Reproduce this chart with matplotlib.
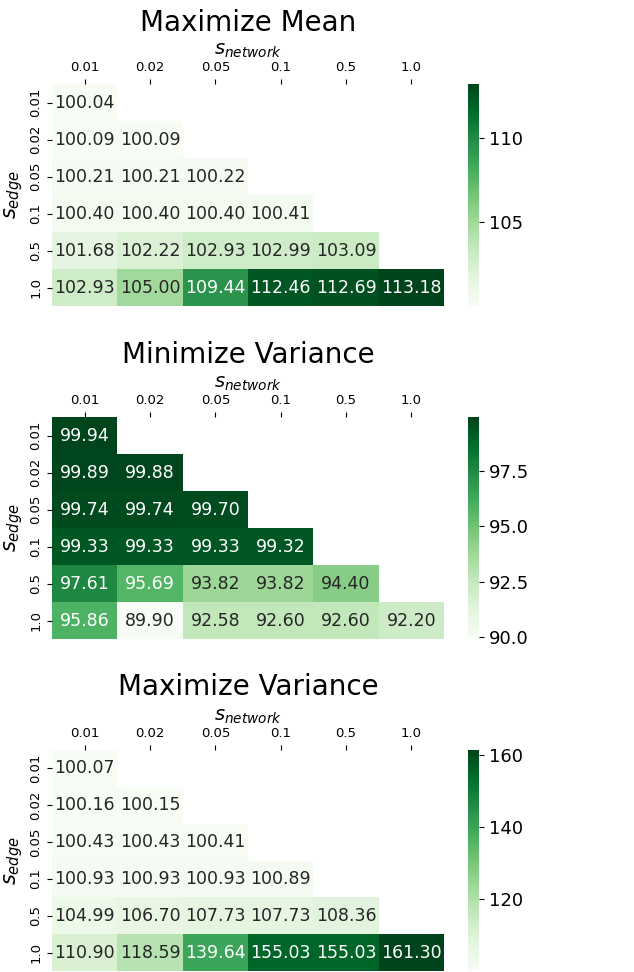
import matplotlib
matplotlib.use("Agg")
import matplotlib.pyplot as plt
import numpy as np
import seaborn as sns

# sparsity levels
s_network = ["0.01", "0.02", "0.05", "0.1", "0.5", "1.0"]
s_edge = ["0.01", "0.02", "0.05", "0.1", "0.5", "1.0"]

# lower-triangular results (rows = s_edge, cols = s_network)
max_mean = [
    [100.04],
    [100.09, 100.09],
    [100.21, 100.21, 100.22],
    [100.40, 100.40, 100.40, 100.41],
    [101.68, 102.22, 102.93, 102.99, 103.09],
    [102.93, 105.00, 109.44, 112.46, 112.69, 113.18],
]
min_var = [
    [99.94],
    [99.89, 99.88],
    [99.74, 99.74, 99.70],
    [99.33, 99.33, 99.33, 99.32],
    [97.61, 95.69, 93.82, 93.82, 94.40],
    [95.86, 89.90, 92.58, 92.60, 92.60, 92.20],
]
max_var = [
    [100.07],
    [100.16, 100.15],
    [100.43, 100.43, 100.41],
    [100.93, 100.93, 100.93, 100.89],
    [104.99, 106.70, 107.73, 107.73, 108.36],
    [110.90, 118.59, 139.64, 155.03, 155.03, 161.30],
]
titles = ["Maximize Mean", "Minimize Variance", "Maximize Variance"]
cbar_ticks = [[105, 110], [90.0, 92.5, 95.0, 97.5], [120, 140, 160]]


def to_matrix(rows):
    n = len(rows)
    m = np.full((n, n), np.nan)
    for i, r in enumerate(rows):
        m[i, : len(r)] = r
    return m


fig = plt.figure(figsize=(6.34, 9.72), dpi=100)
W, H = 634, 972

# (top, bottom) pixel rows of each heatmap
panels = [(84, 306), (417, 639), (750, 971)]
title_base = [31, 363, 695]

for data, title, ticks, (top, bot), tb in zip([max_mean, min_var, max_var], titles,
                                              cbar_ticks, panels, title_base):
    mat = to_matrix(data)
    mask = np.isnan(mat)
    ax = fig.add_axes([52 / W, 1 - bot / H, 392 / W, (bot - top) / H])
    cax = fig.add_axes([468 / W, 1 - bot / H, 11 / W, (bot - top) / H])
    sns.heatmap(mat, mask=mask, cmap="Greens", annot=True, fmt=".2f",
                annot_kws={"fontsize": 12.5}, xticklabels=s_network,
                yticklabels=s_edge, ax=ax, cbar_ax=cax)
    ax.xaxis.tick_top()
    ax.xaxis.set_label_position("top")
    ax.set_xlabel("$s_{network}$", fontsize=14, labelpad=4)
    ax.set_ylabel("$s_{edge}$", fontsize=15, labelpad=3)
    ax.tick_params(axis="x", labelsize=9.5, rotation=0, pad=4)
    ax.tick_params(axis="y", labelsize=9.5)
    plt.setp(ax.get_yticklabels(), rotation=90, va="center")
    cax.set_yticks(ticks)
    if isinstance(ticks[1], float):
        cax.set_yticklabels([f"{t:.1f}" for t in ticks])
    cax.tick_params(labelsize=13)
    fig.text(248 / W, 1 - tb / H, title, fontsize=20, ha="center", va="baseline")

fig.savefig("out.png", dpi=100)
